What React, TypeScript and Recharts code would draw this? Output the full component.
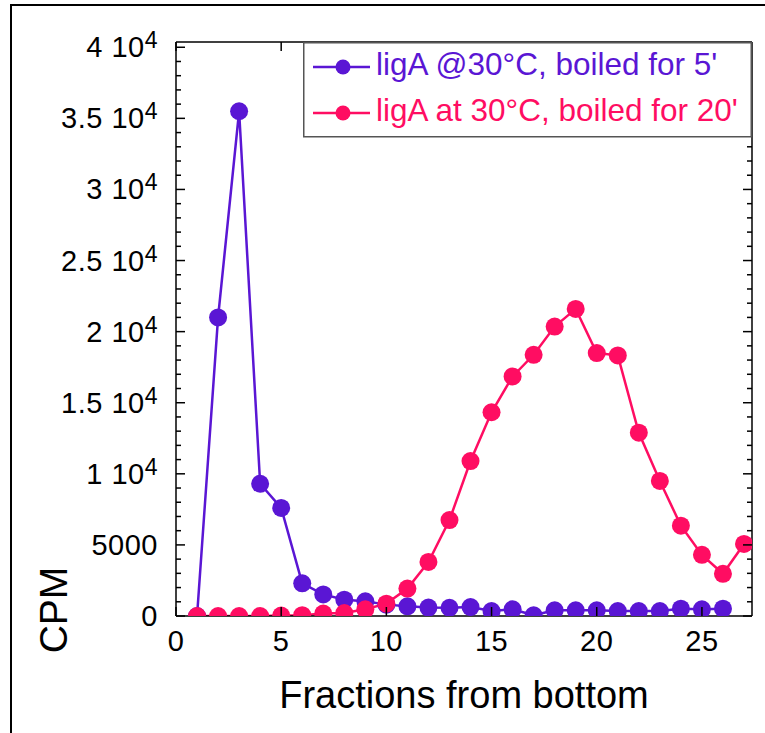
import React from 'react';
import { LineChart, Line, XAxis, YAxis, Legend } from 'recharts';

const fractions = [1, 2, 3, 4, 5, 6, 7, 8, 9, 10, 11, 12, 13, 14, 15, 16, 17, 18, 19, 20, 21, 22, 23, 24, 25, 26, 27];
const boiled5CPM = [0, 21000, 35500, 9300, 7600, 2300, 1520, 1150, 1030, 800, 680, 590, 580, 630, 350, 470, 50, 400, 400, 400, 350, 350, 350, 515, 470, 515];
const boiled20CPM = [0, 0, 0, 0, 30, 60, 170, 210, 470, 870, 1930, 3800, 6750, 10900, 14330, 16850, 18370, 20360, 21600, 18490, 18330, 12890, 9500, 6350, 4300, 2970, 5070];

const seriesNames = ["ligA @30°C, boiled for 5'", "ligA at 30°C, boiled for 20'"];
const seriesColors = ['#5a16d4', '#ff0d62'];

const xTicks = [0, 5, 10, 15, 20, 25];
const yTicks = [
  0, 1000, 2000, 3000, 4000, 5000, 6000, 7000, 8000, 9000, 10000, 11000, 12000, 13000, 14000, 15000,
  16000, 17000, 18000, 19000, 20000, 21000, 22000, 23000, 24000, 25000, 26000, 27000, 28000, 29000, 30000,
  31000, 32000, 33000, 34000, 35000, 36000, 37000, 38000, 39000, 40000,
];
const xDomain = [0, 27.38];
const yDomain = [0, 40370];

const data = fractions.map((f, i) => ({
  fraction: f,
  boiled5: i < boiled5CPM.length ? boiled5CPM[i] : null,
  boiled20: boiled20CPM[i],
}));

const FONT = '"Liberation Sans", Arial, Helvetica, sans-serif';
const TICK_FS = 29;

const renderYLabel = (v: number, x: number, y: number) => {
  if (v < 10000) {
    return (
      <text x={x} y={y} textAnchor="end" fontFamily={FONT} fontSize={TICK_FS} fill="#000" letterSpacing={0.5}>
        {String(v)}
      </text>
    );
  }
  const m = v / 10000;
  return (
    <text x={x} y={y} textAnchor="end" fontFamily={FONT} fontSize={TICK_FS} fill="#000" letterSpacing={0.5}>
      <tspan>{`${m} 10`}</tspan>
      <tspan dy={-9} fontSize={23}>4</tspan>
    </text>
  );
};

const LeftTick = (props: any) => {
  const { x, y, payload } = props;
  const v = payload.value;
  const major = v % 5000 === 0;
  return (
    <g>
      <line x1={x} x2={x + (major ? 9 : 5)} y1={y} y2={y} stroke="#000" strokeWidth={1.5} />
      {major ? renderYLabel(v, x - 18, y + 10) : null}
    </g>
  );
};

const RightTick = (props: any) => {
  const { x, y, payload } = props;
  const v = payload.value;
  const major = v % 5000 === 0;
  return <line x1={x} x2={x - (major ? 9 : 5)} y1={y} y2={y} stroke="#000" strokeWidth={1.5} />;
};

const BottomTick = (props: any) => {
  const { x, y, payload } = props;
  return (
    <g>
      <line x1={x} x2={x} y1={y} y2={y - 9} stroke="#000" strokeWidth={1.5} />
      <text x={x} y={y + 35} textAnchor="middle" fontFamily={FONT} fontSize={TICK_FS} fill="#000" letterSpacing={0.5}>
        {String(payload.value)}
      </text>
    </g>
  );
};

const TopTick = (props: any) => {
  const { x, y } = props;
  return <line x1={x} x2={x} y1={y} y2={y + 9} stroke="#000" strokeWidth={1.5} />;
};

const XTitle = (props: any) => {
  const vb = props.viewBox || { x: 176, y: 616, width: 576, height: 60 };
  return (
    <text x={vb.x + vb.width / 2} y={vb.y + 92} textAnchor="middle" fontFamily={FONT} fontSize={38} fill="#000">
      Fractions from bottom
    </text>
  );
};

const YTitle = (props: any) => {
  const vb = props.viewBox || { x: 0, y: 42, width: 176, height: 574 };
  const cx = vb.x + 67;
  const cy = vb.y + 568;
  return (
    <text transform={`translate(${cx},${cy}) rotate(-90)`} textAnchor="middle" fontFamily={FONT} fontSize={39} fill="#000">
      CPM
    </text>
  );
};

const LegendBox = () => (
  <svg width={449} height={96} style={{ display: 'block' }}>
    <rect x={0.75} y={0.75} width={447.5} height={94} fill="#fff" stroke="#555" strokeWidth={1.5} />
    {seriesNames.map((name, i) => {
      const cy = i === 0 ? 25 : 71;
      return (
        <g key={name}>
          <line x1={10} x2={67} y1={cy} y2={cy} stroke={seriesColors[i]} strokeWidth={2.5} />
          <circle cx={40} cy={cy} r={7.5} fill={seriesColors[i]} />
          <text x={73} y={cy + 8} fontFamily={FONT} fontSize={31.5} fill={seriesColors[i]}>
            {name}
          </text>
        </g>
      );
    })}
  </svg>
);

const axisLineStyle = { stroke: '#000', strokeWidth: 1.5 };

export default function App() {
  return (
    <div style={{ position: 'absolute', left: 0, top: 0, width: 765, height: 733, background: '#fff', overflow: 'hidden' }}>
      <div
        style={{
          position: 'absolute',
          left: 10,
          top: 4,
          width: 760,
          height: 740,
          borderTop: '2px solid #000',
          borderLeft: '2px solid #000',
        }}
      />
      <div style={{ position: 'absolute', left: 0, top: 0 }}>
        <LineChart width={765} height={733} data={data} margin={{ top: 41, right: 12, bottom: 57, left: 0 }}>
          <XAxis
            xAxisId="bottom"
            dataKey="fraction"
            type="number"
            domain={xDomain}
            ticks={xTicks}
            interval={0}
            allowDataOverflow
            height={60}
            tickSize={0}
            tickMargin={0}
            tickLine={false}
            tick={<BottomTick />}
            axisLine={axisLineStyle}
            label={<XTitle />}
          />
          <XAxis
            xAxisId="top"
            dataKey="fraction"
            orientation="top"
            type="number"
            domain={xDomain}
            ticks={xTicks}
            interval={0}
            allowDataOverflow
            height={1}
            tickSize={0}
            tickMargin={0}
            tickLine={false}
            tick={<TopTick />}
            axisLine={axisLineStyle}
          />
          <YAxis
            yAxisId="left"
            type="number"
            domain={yDomain}
            ticks={yTicks}
            interval={0}
            allowDataOverflow
            width={176}
            tickSize={0}
            tickMargin={0}
            tickLine={false}
            tick={<LeftTick />}
            axisLine={axisLineStyle}
            label={<YTitle />}
          />
          <YAxis
            yAxisId="right"
            orientation="right"
            type="number"
            domain={yDomain}
            ticks={yTicks}
            interval={0}
            allowDataOverflow
            width={1}
            tickSize={0}
            tickMargin={0}
            tickLine={false}
            tick={<RightTick />}
            axisLine={axisLineStyle}
          />
          <Legend
            layout="vertical"
            align="center"
            verticalAlign="middle"
            wrapperStyle={{ left: 303, top: 42, width: 449, height: 96 }}
            content={() => <LegendBox />}
          />
          <Line
            xAxisId="bottom"
            yAxisId="left"
            dataKey="boiled5"
            name={seriesNames[0]}
            stroke={seriesColors[0]}
            strokeWidth={2.5}
            dot={{ r: 9, fill: seriesColors[0], stroke: 'none' }}
            activeDot={false}
            isAnimationActive={false}
          />
          <Line
            xAxisId="top"
            yAxisId="right"
            dataKey="boiled20"
            name={seriesNames[1]}
            stroke={seriesColors[1]}
            strokeWidth={2.5}
            dot={{ r: 9, fill: seriesColors[1], stroke: 'none' }}
            activeDot={false}
            isAnimationActive={false}
          />
        </LineChart>
      </div>
    </div>
  );
}
